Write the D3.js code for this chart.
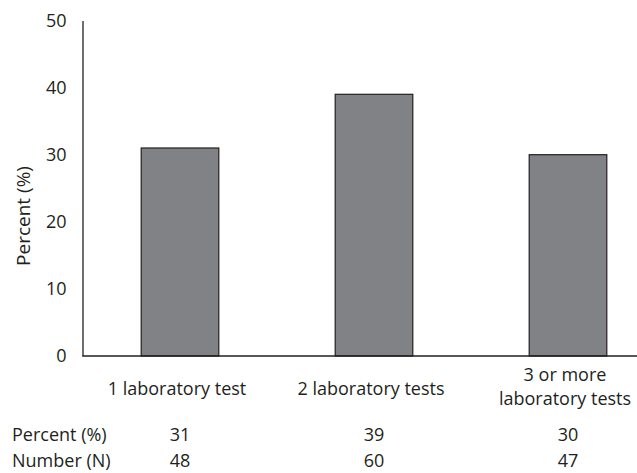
<!DOCTYPE html>
<html>
<head>
<meta charset="utf-8">
<script src="https://cdn.jsdelivr.net/npm/d3@7/dist/d3.min.js"></script>
<style>
  html, body { margin: 0; padding: 0; background: #fff; }
  svg { display: block; }
  text { font-family: "Open Sans", sans-serif; fill: #231f20; }
</style>
</head>
<body>
<svg id="chart" width="637" height="473"></svg>
<script>
const categories = [["1 laboratory test"], ["2 laboratory tests"], ["3 or more", "laboratory tests"]];
const percentValues = [31, 39, 30];
const numberValues = [48, 60, 47];
const yTicks = [0, 10, 20, 30, 40, 50];
const rowLabels = ["Percent (%)", "Number (N)"];
const yTitle = "Percent (%)";

const svg = d3.select("#chart");
const ink = "#231f20";

const x = d3.scaleBand()
  .domain(d3.range(categories.length))
  .range([83, 665])
  .paddingInner(0.6)
  .paddingOuter(0.3);

const y = d3.scaleLinear().domain([0, 50]).range([356, 20.5]);

// bars
svg.append("g").selectAll("rect")
  .data(percentValues)
  .join("rect")
  .attr("x", (d, i) => x(i))
  .attr("y", d => y(d))
  .attr("width", x.bandwidth())
  .attr("height", d => y(0) - y(d))
  .attr("fill", "#808285")
  .attr("stroke", ink)
  .attr("stroke-width", 1.2);

// y axis
const yAxis = svg.append("g")
  .attr("transform", "translate(82.5,0)")
  .call(d3.axisLeft(y).tickValues(yTicks).tickSize(0).tickPadding(16).tickFormat(d3.format("d")));
yAxis.select(".domain").attr("stroke", ink).attr("stroke-width", 1.3);
yAxis.selectAll("text")
  .style("font-family", "'Open Sans', sans-serif")
  .style("font-size", "18px")
  .attr("fill", ink);

// x baseline
svg.append("line")
  .attr("x1", 82.5).attr("x2", 637)
  .attr("y1", y(0)).attr("y2", y(0))
  .attr("stroke", ink).attr("stroke-width", 1.3);

// y title
svg.append("text")
  .attr("transform", "translate(30,216) rotate(-90)")
  .attr("text-anchor", "middle")
  .style("font-size", "19px")
  .text(yTitle);

// category labels
const catG = svg.append("g");
categories.forEach((lines, i) => {
  const cx = x(i) + x.bandwidth() / 2 - 3;
  const t = catG.append("text")
    .attr("text-anchor", "middle")
    .style("font-size", "18px");
  const startY = lines.length === 1 ? 395 : 381;
  lines.forEach((ln, j) => {
    t.append("tspan").attr("x", cx).attr("y", startY + j * 24).text(ln);
  });
});

// table rows
const rows = [percentValues, numberValues];
const rowY = [441, 467];
rows.forEach((vals, r) => {
  svg.append("text")
    .attr("x", 12).attr("y", rowY[r])
    .style("font-size", "18px")
    .text(rowLabels[r]);
  svg.append("g").selectAll("text")
    .data(vals)
    .join("text")
    .attr("x", (d, i) => x(i) + x.bandwidth() / 2)
    .attr("y", rowY[r])
    .attr("text-anchor", "middle")
    .style("font-size", "18px")
    .text(d => d);
});
</script>
</body>
</html>
